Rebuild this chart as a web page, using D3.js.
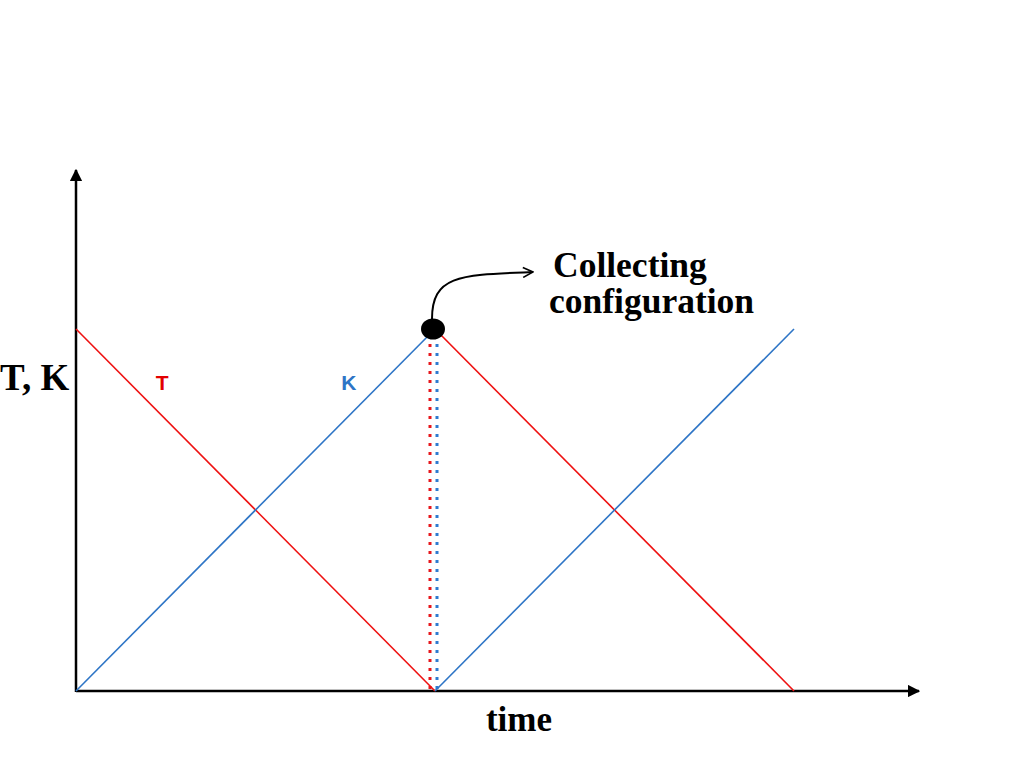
<!DOCTYPE html>
<html>
<head>
<meta charset="utf-8">
<script src="https://cdn.jsdelivr.net/npm/d3@7"></script>
<style>
  body { margin: 0; background: #fff; }
  svg { display: block; }
</style>
</head>
<body>
<svg width="1024" height="768"></svg>
<script>
// two cycles: T goes down while K goes up, then reset at time = 1
var tSegments = [[[0, 1], [1, 0]], [[1, 1], [2, 0]]];
var kSegments = [[[0, 0], [1, 1]], [[1, 0], [2, 1]]];
var collectTime = 1, collectValue = 1;
var labels = {T: [0.24, 0.85], K: [0.76, 0.85]};

var svg = d3.select('svg');
var x = d3.scaleLinear().domain([0, 2]).range([76, 794]);
var y = d3.scaleLinear().domain([0, 1]).range([691, 329]);
var line = d3.line().x(d => x(d[0])).y(d => y(d[1]));

var defs = svg.append('defs');
defs.append('marker').attr('id', 'tri')
  .attr('viewBox', '0 0 10 10').attr('refX', 9).attr('refY', 5)
  .attr('markerWidth', 5).attr('markerHeight', 5).attr('orient', 'auto')
  .append('path').attr('d', 'M0,0L10,5L0,10Z').attr('fill', '#000');
defs.append('marker').attr('id', 'open')
  .attr('viewBox', '0 0 12 12').attr('refX', 11).attr('refY', 6)
  .attr('markerWidth', 12).attr('markerHeight', 12).attr('markerUnits', 'userSpaceOnUse').attr('orient', 'auto')
  .append('path').attr('d', 'M1,1L11,6L1,11').attr('fill', 'none').attr('stroke', '#000').attr('stroke-width', 1.6);

// axes
svg.append('line').attr('x1', x(0)).attr('y1', y(0)).attr('x2', 919).attr('y2', y(0))
  .attr('stroke', '#000').attr('stroke-width', 2.5).attr('marker-end', 'url(#tri)');
svg.append('line').attr('x1', x(0)).attr('y1', y(0) + 1).attr('x2', x(0)).attr('y2', 170)
  .attr('stroke', '#000').attr('stroke-width', 2.5).attr('marker-end', 'url(#tri)');

// dotted guides at the collecting time
svg.append('line').attr('x1', x(collectTime) - 5).attr('x2', x(collectTime) - 5)
  .attr('y1', y(collectValue) + 6).attr('y2', y(0))
  .attr('stroke', '#e8161b').attr('stroke-width', 3).attr('stroke-dasharray', '3,6');
svg.append('line').attr('x1', x(collectTime) + 2).attr('x2', x(collectTime) + 2)
  .attr('y1', y(collectValue) + 6).attr('y2', y(0))
  .attr('stroke', '#2e7bd0').attr('stroke-width', 3).attr('stroke-dasharray', '3,6');

tSegments.forEach(function(s) {
  svg.append('path').attr('d', line(s)).attr('fill', 'none').attr('stroke', '#ee1111').attr('stroke-width', 1.6);
});
kSegments.forEach(function(s) {
  svg.append('path').attr('d', line(s)).attr('fill', 'none').attr('stroke', '#2e75c6').attr('stroke-width', 1.6);
});

// collected point + curved arrow
svg.append('ellipse').attr('cx', x(collectTime) - 2).attr('cy', y(collectValue)).attr('rx', 12).attr('ry', 10.5).attr('fill', '#000');
var cx = x(collectTime) - 3, cy = y(collectValue) - 10;
svg.append('path')
  .attr('d', 'M' + cx + ',' + cy + ' C' + cx + ',' + (cy - 45) + ' ' + (cx + 30) + ',' + (cy - 44) + ' ' + (cx + 101) + ',' + (cy - 47))
  .attr('fill', 'none').attr('stroke', '#000').attr('stroke-width', 2).attr('marker-end', 'url(#open)');

// text
var serif = '"Liberation Serif", "Times New Roman", serif';
svg.append('text').attr('x', 0).attr('y', 390).attr('font-family', serif).attr('font-weight', 'bold')
  .attr('font-size', 37).text('T, K');
svg.append('text').attr('x', 519).attr('y', 731).attr('text-anchor', 'middle').attr('font-family', serif)
  .attr('font-weight', 'bold').attr('font-size', 35).text('time');
svg.append('text').attr('x', 553).attr('y', 277).attr('font-family', serif).attr('font-weight', 'bold')
  .attr('font-size', 35.5).text('Collecting');
svg.append('text').attr('x', 549).attr('y', 313).attr('font-family', serif).attr('font-weight', 'bold')
  .attr('font-size', 35.5).text('configuration');

var sans = '"Liberation Sans", Arial, sans-serif';
svg.append('text').attr('x', x(labels.T[0])).attr('y', 390).attr('text-anchor', 'middle')
  .attr('font-family', sans).attr('font-weight', 'bold').attr('font-size', 21).attr('fill', '#e30000').text('T');
svg.append('text').attr('x', x(labels.K[0])).attr('y', 390).attr('text-anchor', 'middle')
  .attr('font-family', sans).attr('font-weight', 'bold').attr('font-size', 21).attr('fill', '#2e75c6').text('K');
</script>
</body>
</html>
